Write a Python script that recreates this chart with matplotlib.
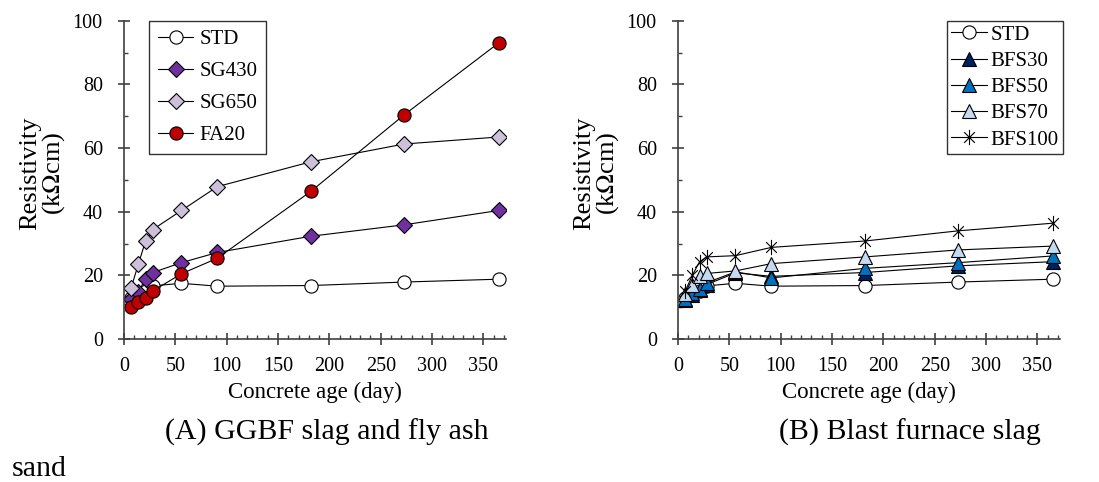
import matplotlib
matplotlib.use('Agg')
import matplotlib.pyplot as plt
from matplotlib.path import Path
from matplotlib.ticker import MultipleLocator

plt.rcParams['font.family'] = ['Liberation Serif', 'DejaVu Serif']
plt.rcParams['mathtext.fontset'] = 'stix'

days = [7, 14, 21, 28, 56, 91, 182, 273, 365]

std = [12.8, 14.0, 15.2, 16.7, 17.5, 16.6, 16.8, 17.9, 18.8]
sg430 = [12.5, 14.8, 19.0, 20.9, 24.0, 27.2, 32.3, 35.9, 40.4]
sg650 = [16.1, 23.5, 30.8, 34.4, 40.4, 47.9, 55.7, 61.3, 63.5]
fa20 = [10.2, 11.6, 12.9, 15.1, 20.5, 25.4, 46.4, 70.5, 93.1]

bfs30 = [12.1, 13.7, 15.3, 17.1, 20.8, 19.7, 20.9, 23.0, 24.3]
bfs50 = [12.7, 14.5, 15.6, 17.7, 21.1, 19.2, 22.2, 24.0, 26.1]
bfs70 = [14.2, 16.9, 19.8, 20.6, 21.4, 23.7, 25.8, 28.0, 29.2]
bfs100 = [15.0, 20.0, 24.3, 25.8, 26.2, 28.8, 30.8, 34.0, 36.4]

# excel style star: X plus vertical bar
star = Path([(-0.7, -0.7), (0.7, 0.7), (-0.7, 0.7), (0.7, -0.7), (0, -1), (0, 1)],
            [Path.MOVETO, Path.LINETO, Path.MOVETO, Path.LINETO, Path.MOVETO, Path.LINETO])

fig = plt.figure(figsize=(10.99, 4.82), dpi=100)
ax1 = fig.add_axes([0.1128, 0.2967, 0.3476, 0.660])
ax2 = fig.add_axes([0.6169, 0.2967, 0.3476, 0.660])


def style(ax):
    ax.set_xlim(0, 372)
    ax.set_ylim(0, 100)
    ax.xaxis.set_major_locator(MultipleLocator(50))
    ax.xaxis.set_minor_locator(MultipleLocator(10))
    ax.yaxis.set_major_locator(MultipleLocator(20))
    ax.yaxis.set_minor_locator(MultipleLocator(10))
    ax.spines['top'].set_visible(False)
    ax.spines['right'].set_visible(False)
    for s in ['left', 'bottom']:
        ax.spines[s].set_color('#404040')
        ax.spines[s].set_linewidth(1.2)
    ax.tick_params(which='major', direction='inout', length=8.5, width=1.2,
                   color='#404040', labelsize=14.5)
    ax.tick_params(axis='x', which='major', pad=9)
    ax.tick_params(axis='y', which='major', pad=11)
    ax.tick_params(which='minor', direction='in', length=3.2, width=1.0, color='#404040')
    ax.set_xlabel('Concrete age (day)', fontsize=16.5, labelpad=4)
    ax.set_ylabel('Resistivity\n(k$\\Omega$cm)', fontsize=19, linespacing=0.95)
    ax.yaxis.set_label_coords(-0.15, 0.52)


kw = dict(color='black', lw=0.8, markeredgecolor='black', markeredgewidth=0.8)

ax1.plot(days, std, marker='o', ms=9.5, markerfacecolor='white', label='STD', **kw)
ax1.plot(days, sg430, marker='D', ms=8.5, markerfacecolor='#7030A0', label='SG430', **kw)
ax1.plot(days, sg650, marker='D', ms=8.5, markerfacecolor='#CCC0DA', label='SG650', **kw)
ax1.plot(days, fa20, marker='o', ms=9.5, markerfacecolor='#C00000', label='FA20', **kw)
style(ax1)
leg1 = ax1.legend(loc='upper left', bbox_to_anchor=(0.066, 1.0), fontsize=15,
                  frameon=True, fancybox=False, handlelength=1.7, handletextpad=0.3,
                  labelspacing=0.6, borderpad=0.42, borderaxespad=0)
leg1.get_frame().set_edgecolor('black')
leg1.get_frame().set_linewidth(1.0)

ax2.plot(days, std, marker='o', ms=9.5, markerfacecolor='white', label='STD', **kw)
ax2.plot(days, bfs30, marker='^', ms=10, markerfacecolor='#002060', label='BFS30', **kw)
ax2.plot(days, bfs50, marker='^', ms=10, markerfacecolor='#0070C0', label='BFS50', **kw)
ax2.plot(days, bfs70, marker='^', ms=10, markerfacecolor='#C5D9F1', label='BFS70', **kw)
ax2.plot(days, bfs100, marker=star, ms=11, markerfacecolor='none', label='BFS100', **kw)
style(ax2)
leg2 = ax2.legend(loc='upper right', bbox_to_anchor=(1.008, 1.0), fontsize=15,
                  frameon=True, fancybox=False, handlelength=1.7, handletextpad=0.2,
                  labelspacing=0.32, borderpad=0.2, borderaxespad=0)
leg2.get_frame().set_edgecolor('black')
leg2.get_frame().set_linewidth(1.0)

fig.text(327 / 1099, 1 - 432 / 482, '(A) GGBF slag and fly ash', fontsize=21.5,
         ha='center', va='center')
fig.text(910 / 1099, 1 - 432 / 482, '(B) Blast furnace slag', fontsize=21.5,
         ha='center', va='center')
fig.text(12 / 1099, 1 - 469 / 482, 'sand', fontsize=21.5, ha='left', va='center')

fig.savefig('out.png', dpi=100)
